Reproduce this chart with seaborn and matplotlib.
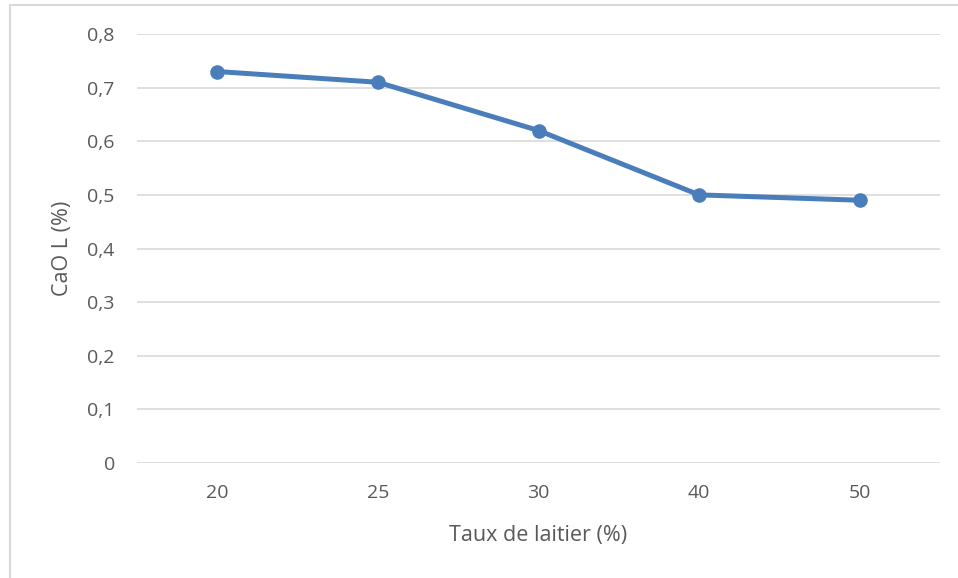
import pandas as pd
import matplotlib.pyplot as plt
import seaborn as sns
from matplotlib.patches import Rectangle
from matplotlib.ticker import FuncFormatter

taux = ['20', '25', '30', '40', '50']
cao = [0.73, 0.71, 0.62, 0.50, 0.49]

df = pd.DataFrame({'taux': taux, 'cao': cao})

sns.set_style('white')
plt.rcParams['font.family'] = ['Open Sans', 'DejaVu Sans']

fig = plt.figure(figsize=(9.58, 5.78), dpi=100)
ax = fig.add_axes([137 / 958, 1 - 463 / 578, (940 - 137) / 958, (463 - 34) / 578])

sns.lineplot(data=df, x='taux', y='cao', ax=ax, color='#4A7EBB', linewidth=3.6,
             marker='o', markersize=10.5, markeredgewidth=0, sort=False)

ax.set_xlim(-0.5, len(taux) - 0.5)
ax.set_ylim(0, 0.8)
ax.set_yticks([i / 10 for i in range(9)])
ax.yaxis.set_major_formatter(FuncFormatter(lambda v, p: '0' if v == 0 else f'{v:.1f}'.replace('.', ',')))
ax.grid(axis='y', color='#D9D9D9', linewidth=1.2)
ax.set_axisbelow(True)
for s in ax.spines.values():
    s.set_visible(False)
ax.tick_params(axis='both', length=0, labelsize=14, colors='#595959')
ax.tick_params(axis='y', pad=16)
ax.tick_params(axis='x', pad=15)

ax.set_xlabel('Taux de laitier (%)', fontsize=15.5, color='#595959', labelpad=17)
ax.set_ylabel('CaO L (%)', fontsize=15.5, color='#595959', labelpad=10)

fig.patches.append(Rectangle((9.5 / 958, -0.1), 1.2, 1.1 - 5.5 / 578, transform=fig.transFigure,
                             fill=False, edgecolor='#D9D9D9', linewidth=1.5))

fig.savefig('out.png', dpi=100)
